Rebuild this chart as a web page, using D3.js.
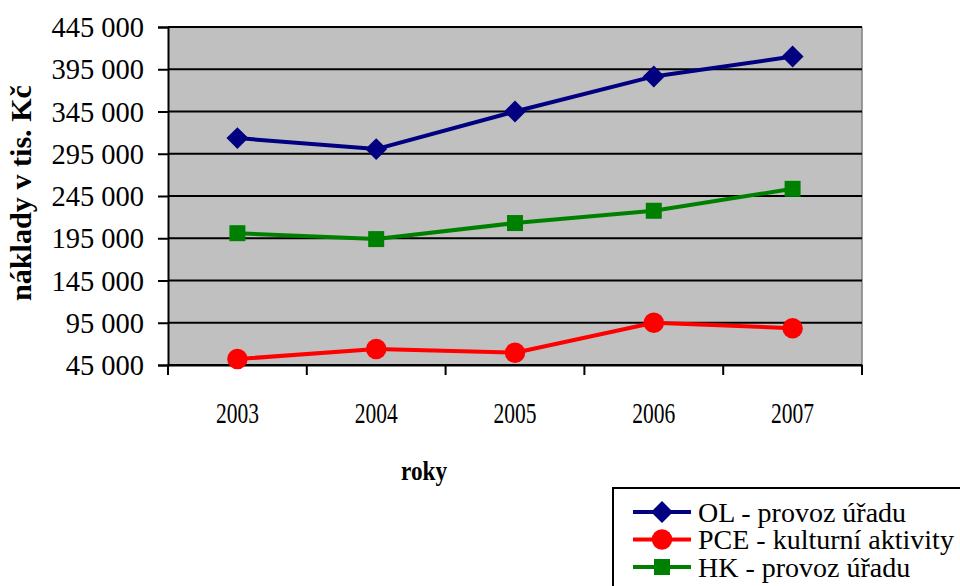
<!DOCTYPE html>
<html>
<head>
<meta charset="utf-8">
<script src="https://cdn.jsdelivr.net/npm/d3@7"></script>
<style>
  html, body { margin: 0; padding: 0; background: #fff; }
  svg { display: block; font-family: "Liberation Serif", "Times New Roman", serif; }
</style>
</head>
<body>
<svg id="chart" width="960" height="586"></svg>
<script>
// ---- Data ----
const years = ["2003", "2004", "2005", "2006", "2007"];
const olValues  = [313500, 300500, 345000, 386500, 410000];
const pceValues = [52000, 64000, 59500, 95000, 88500];
const hkValues  = [201000, 194000, 213000, 227500, 253500];
const yTicks = [45000, 95000, 145000, 195000, 245000, 295000, 345000, 395000, 445000];
const seriesNames = ["OL - provoz úřadu", "PCE - kulturní aktivity", "HK - provoz úřadu"];

const series = [
  { name: seriesNames[0], values: olValues,  color: "#000080", marker: "diamond" },
  { name: seriesNames[1], values: pceValues, color: "#ff0000", marker: "circle" },
  { name: seriesNames[2], values: hkValues,  color: "#008000", marker: "square" }
];

const svg = d3.select("#chart");
const plot = { left: 168, right: 862, top: 27, bottom: 365 };

const x = d3.scaleBand().domain(years).range([plot.left, plot.right]).padding(0);
const y = d3.scaleLinear().domain([45000, 445000]).range([plot.bottom, plot.top]);
const fmt = d3.formatLocale({ decimal: ",", thousands: " ", grouping: [3], currency: ["", ""] }).format(",d");

// ---- Plot background ----
svg.append("rect")
  .attr("x", plot.left).attr("y", plot.top)
  .attr("width", plot.right - plot.left).attr("height", plot.bottom - plot.top)
  .attr("fill", "#c0c0c0");
svg.append("line")
  .attr("x1", plot.right).attr("x2", plot.right)
  .attr("y1", plot.top).attr("y2", plot.bottom)
  .attr("stroke", "#808080").attr("stroke-width", 1.5);

// ---- Gridlines ----
svg.append("g")
  .selectAll("line")
  .data(yTicks)
  .join("line")
  .attr("x1", plot.left).attr("x2", plot.right)
  .attr("y1", d => y(d)).attr("y2", d => y(d))
  .attr("stroke", "#000").attr("stroke-width", 2);

// ---- Y axis ----
const yAxis = svg.append("g")
  .attr("transform", `translate(${plot.left},0)`)
  .call(d3.axisLeft(y).tickValues(yTicks).tickFormat(fmt).tickSize(10).tickPadding(14));
yAxis.select(".domain").attr("stroke", "#000").attr("stroke-width", 2);
yAxis.selectAll(".tick line").attr("stroke", "#000").attr("stroke-width", 2);
yAxis.selectAll("text")
  .attr("font-family", "Liberation Serif").attr("font-size", 28.5).attr("fill", "#000")
  .attr("dy", "0.34em");

// ---- X axis ----
const xAxis = svg.append("g")
  .attr("transform", `translate(0,${plot.bottom})`)
  .call(d3.axisBottom(x).tickSize(0).tickPadding(0));
xAxis.select(".domain").attr("stroke", "#000").attr("stroke-width", 2);
xAxis.selectAll(".tick text").remove();
// category boundary ticks
svg.append("g")
  .selectAll("line")
  .data(years.map(d => x(d)).concat([x(years[years.length - 1]) + x.bandwidth()]))
  .join("line")
  .attr("x1", d => d).attr("x2", d => d)
  .attr("y1", plot.bottom).attr("y2", plot.bottom + 10)
  .attr("stroke", "#000").attr("stroke-width", 2);
svg.append("g")
  .selectAll("text")
  .data(years)
  .join("text")
  .attr("x", d => x(d) + x.bandwidth() / 2)
  .attr("y", 423)
  .attr("text-anchor", "middle")
  .attr("font-size", 30)
  .attr("textLength", 43)
  .attr("lengthAdjust", "spacingAndGlyphs")
  .text(d => d);

// ---- Axis titles ----
svg.append("text")
  .attr("x", 424).attr("y", 480)
  .attr("text-anchor", "middle")
  .attr("font-size", 28).attr("font-weight", "bold")
  .attr("textLength", 46).attr("lengthAdjust", "spacingAndGlyphs")
  .text("roky");

svg.append("text")
  .attr("transform", "translate(31,193) rotate(-90)")
  .attr("text-anchor", "middle")
  .attr("font-size", 30).attr("font-weight", "bold")
  .attr("textLength", 216).attr("lengthAdjust", "spacingAndGlyphs")
  .text("náklady v tis. Kč");

// ---- Markers ----
const diamond = d3.symbol().type(d3.symbolSquare).size(240);
const square = d3.symbol().type(d3.symbolSquare).size(256);
const circle = d3.symbol().type(d3.symbolCircle).size(330);

function drawMarker(g, type, color) {
  if (type === "diamond") {
    g.append("path").attr("d", diamond()).attr("transform", "rotate(45)").attr("fill", color);
  } else if (type === "square") {
    g.append("path").attr("d", square()).attr("fill", color);
  } else {
    g.append("path").attr("d", circle()).attr("fill", color);
  }
}

// ---- Lines ----
const line = d3.line()
  .x((d, i) => x(years[i]) + x.bandwidth() / 2)
  .y(d => y(d));

series.forEach(s => {
  svg.append("path")
    .datum(s.values)
    .attr("d", line)
    .attr("fill", "none")
    .attr("stroke", s.color)
    .attr("stroke-width", 4)
    .attr("stroke-linejoin", "round");
  s.values.forEach((v, i) => {
    const g = svg.append("g")
      .attr("transform", `translate(${x(years[i]) + x.bandwidth() / 2},${y(v)})`);
    drawMarker(g, s.marker, s.color);
  });
});

// ---- Legend ----
const legend = svg.append("g");
legend.append("rect")
  .attr("x", 613).attr("y", 488)
  .attr("width", 360).attr("height", 120)
  .attr("fill", "#fff").attr("stroke", "#000").attr("stroke-width", 2);

const legendY = d3.scalePoint().domain(seriesNames).range([512, 567]);
const labels = [];
series.forEach(s => {
  const row = legend.append("g").attr("transform", `translate(0,${legendY(s.name)})`);
  row.append("line")
    .attr("x1", 633).attr("x2", 691).attr("y1", 0).attr("y2", 0)
    .attr("stroke", s.color).attr("stroke-width", 4);
  drawMarker(row.append("g").attr("transform", "translate(662,0)"), s.marker, s.color);
  labels.push(row.append("text")
    .attr("x", 0).attr("y", 0).attr("dy", "0.34em")
    .attr("font-size", 28)
    .text(s.name));
});
// the legend text is a bit condensed in the original: squeeze so the longest fits
const longest = d3.max(labels, t => t.node().getComputedTextLength());
const squeeze = Math.min(1, 256 / longest);
labels.forEach(t => t.attr("transform", `translate(698,0) scale(${squeeze},1)`));
</script>
</body>
</html>
